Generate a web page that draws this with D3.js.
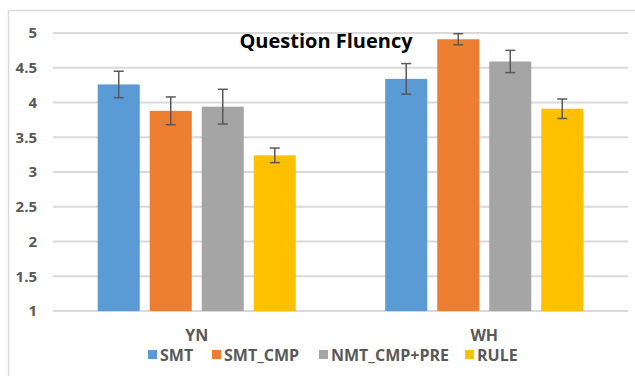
<!DOCTYPE html>
<html>
<head>
  <meta charset="utf-8">
  <title>Question Fluency</title>
  <script src="https://cdn.jsdelivr.net/npm/d3@7/dist/d3.min.js"></script>
  <style>
    body { margin: 0; background: #fff; }
    text { font-family: "Open Sans", "Liberation Sans", sans-serif; }
  </style>
</head>
<body>
<script>
  // data
  var categories = ["YN", "WH"];
  var series = ["SMT", "SMT_CMP", "NMT_CMP+PRE", "RULE"];
  var colors = ["#5b9bd5", "#ed7d31", "#a5a5a5", "#ffc000"];
  var values = [
    [4.26, 3.88, 3.94, 3.24],   // YN
    [4.34, 4.91, 4.59, 3.91]    // WH
  ];
  var errors = [
    [0.19, 0.20, 0.25, 0.105],
    [0.22, 0.08, 0.16, 0.14]
  ];
  var yTicks = [1, 1.5, 2, 2.5, 3, 3.5, 4, 4.5, 5];

  var width = 635, height = 376;
  var margin = { top: 33, right: 7, bottom: 65, left: 53 };

  var svg = d3.select("body").append("svg")
    .attr("width", width).attr("height", height);

  // chart frame (only left and top edges visible)
  svg.append("path")
    .attr("d", "M8.5," + height + "V10.5H" + width)
    .attr("fill", "none")
    .attr("stroke", "#d9d9d9")
    .attr("stroke-width", 1.5);

  var x0 = d3.scaleBand()
    .domain(categories)
    .range([margin.left, width - margin.right])
    .paddingInner(0.311).paddingOuter(0.1555);

  var x1 = d3.scaleBand()
    .domain(series)
    .range([0, x0.bandwidth()])
    .paddingInner(0.192);

  var y = d3.scaleLinear()
    .domain([1, 5])
    .range([height - margin.bottom, margin.top]);

  // gridlines
  svg.append("g")
    .selectAll("line")
    .data(yTicks)
    .join("line")
    .attr("x1", margin.left)
    .attr("x2", width - margin.right)
    .attr("y1", function(d) { return y(d); })
    .attr("y2", function(d) { return y(d); })
    .attr("stroke", "#d9d9d9")
    .attr("stroke-width", 2);

  // y axis labels
  var yAxis = d3.axisLeft(y).tickValues(yTicks).tickSize(0).tickPadding(16)
    .tickFormat(function(d) { return d; });
  svg.append("g")
    .attr("transform", "translate(" + margin.left + ",0)")
    .call(yAxis)
    .call(function(g) { g.select(".domain").remove(); })
    .selectAll("text")
    .attr("fill", "#595959")
    .attr("font-size", "15px")
    .attr("font-weight", "bold")
    .attr("font-family", "Open Sans");

  // bars
  var groups = svg.append("g")
    .selectAll("g")
    .data(categories)
    .join("g")
    .attr("transform", function(d) { return "translate(" + x0(d) + ",0)"; });

  groups.selectAll("rect")
    .data(function(d, i) {
      return series.map(function(s, j) {
        return { s: s, j: j, v: values[i][j], e: errors[i][j] };
      });
    })
    .join("rect")
    .attr("x", function(d) { return x1(d.s); })
    .attr("y", function(d) { return y(d.v); })
    .attr("width", x1.bandwidth())
    .attr("height", function(d) { return y(1) - y(d.v); })
    .attr("fill", function(d) { return colors[d.j]; });

  // error bars
  var eb = groups.selectAll("g.err")
    .data(function(d, i) {
      return series.map(function(s, j) {
        return { s: s, v: values[i][j], e: errors[i][j] };
      });
    })
    .join("g")
    .attr("class", "err")
    .attr("stroke", "#595959")
    .attr("stroke-width", 1.5);

  eb.append("line")
    .attr("x1", function(d) { return x1(d.s) + x1.bandwidth() / 2; })
    .attr("x2", function(d) { return x1(d.s) + x1.bandwidth() / 2; })
    .attr("y1", function(d) { return y(d.v + d.e); })
    .attr("y2", function(d) { return y(d.v - d.e); });
  [1, -1].forEach(function(sgn) {
    eb.append("line")
      .attr("x1", function(d) { return x1(d.s) + x1.bandwidth() / 2 - 5; })
      .attr("x2", function(d) { return x1(d.s) + x1.bandwidth() / 2 + 5; })
      .attr("y1", function(d) { return y(d.v + sgn * d.e); })
      .attr("y2", function(d) { return y(d.v + sgn * d.e); });
  });

  // category labels
  svg.append("g")
    .selectAll("text")
    .data(categories)
    .join("text")
    .attr("x", function(d) { return x0(d) + x0.bandwidth() / 2; })
    .attr("y", 341)
    .attr("text-anchor", "middle")
    .attr("fill", "#595959")
    .attr("font-size", "16px")
    .attr("font-weight", "bold")
    .text(function(d) { return d; });

  // title
  svg.append("text")
    .attr("x", 326)
    .attr("y", 48)
    .attr("text-anchor", "middle")
    .attr("fill", "#000")
    .attr("font-size", "20px")
    .attr("font-weight", "bold")
    .text("Question Fluency");

  // legend
  var legendX = [148, 212, 319, 465];
  var legend = svg.append("g")
    .selectAll("g")
    .data(series)
    .join("g")
    .attr("transform", function(d, i) { return "translate(" + legendX[i] + ",350)"; });
  legend.append("rect")
    .attr("width", 9).attr("height", 9)
    .attr("fill", function(d, i) { return colors[i]; });
  legend.append("text")
    .attr("x", 12)
    .attr("y", 10.5)
    .attr("fill", "#595959")
    .attr("font-size", "16px")
    .attr("font-weight", "bold")
    .text(function(d) { return d; });
</script>
</body>
</html>
